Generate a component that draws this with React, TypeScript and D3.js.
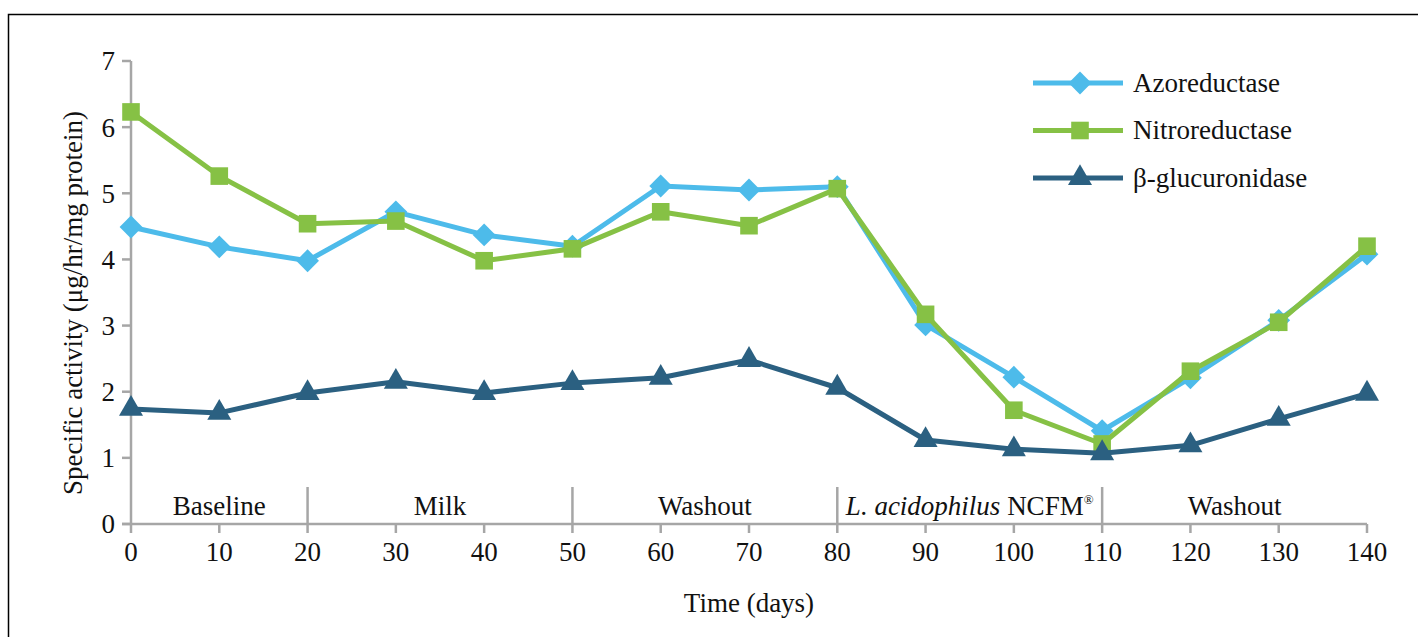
import React from 'react';
import * as d3 from 'd3';

const days = [0, 10, 20, 30, 40, 50, 60, 70, 80, 90, 100, 110, 120, 130, 140];
const azoreductase = [4.49, 4.19, 3.98, 4.72, 4.37, 4.20, 5.11, 5.05, 5.10, 3.01, 2.22, 1.41, 2.21, 3.08, 4.08];
const nitroreductase = [6.23, 5.26, 4.54, 4.58, 3.98, 4.16, 4.72, 4.51, 5.07, 3.17, 1.72, 1.21, 2.31, 3.05, 4.20];
const glucuronidase = [1.74, 1.68, 1.98, 2.15, 1.98, 2.13, 2.21, 2.48, 2.06, 1.27, 1.13, 1.07, 1.19, 1.59, 1.97];
const yTicks = [0, 1, 2, 3, 4, 5, 6, 7];
const phaseBreaks = [20, 50, 80, 110];
const phases = [
  { from: 0, to: 20, label: 'Baseline' },
  { from: 20, to: 50, label: 'Milk' },
  { from: 50, to: 80, label: 'Washout' },
  { from: 80, to: 110, label: 'NCFM' },
  { from: 110, to: 140, label: 'Washout' },
];

// diamond = square turned 45deg
const series = [
  { name: 'Azoreductase', values: azoreductase, color: '#4dbbea', symbol: d3.symbolSquare, size: 260, rot: 45 },
  { name: 'Nitroreductase', values: nitroreductase, color: '#86c145', symbol: d3.symbolSquare, size: 310, rot: 0 },
  { name: 'β-glucuronidase', values: glucuronidase, color: '#2b6081', symbol: d3.symbolTriangle, size: 250, rot: 0 },
];

const W = 1418;
const H = 637;
const font = '"Liberation Serif", "DejaVu Serif", serif';
const fs = 27;
const axisColor = '#a6a6a6';

export default function App() {
  const x = d3.scaleLinear().domain([0, 140]).range([131, 1367]);
  const y = d3.scaleLinear().domain([0, 7]).range([524, 61]);

  const line = d3.line<number>()
    .x((_, i) => x(days[i]))
    .y(d => y(d));

  return (
    <svg width={W} height={H} style={{ position: 'absolute', left: 0, top: 0, background: '#fff' }}>
      <rect x={8.5} y={14.5} width={W} height={H} fill="none" stroke="#000" strokeWidth={1.5} />

      {/* y axis */}
      <line x1={x(0)} x2={x(0)} y1={y(0)} y2={y(7)} stroke={axisColor} strokeWidth={2.5} />
      {yTicks.map(t => (
        <g key={'y' + t}>
          <line x1={x(0) - 9} x2={x(0)} y1={y(t)} y2={y(t)} stroke={axisColor} strokeWidth={2.5} />
          <text x={x(0) - 16} y={y(t)} dy="0.35em" textAnchor="end" fontFamily={font} fontSize={fs} fill="#111">{t}</text>
        </g>
      ))}

      {/* x axis */}
      <line x1={x(0) - 9} x2={x(140)} y1={y(0)} y2={y(0)} stroke={axisColor} strokeWidth={2.5} />
      {days.map(d => (
        <g key={'x' + d}>
          <line x1={x(d)} x2={x(d)} y1={y(0)} y2={y(0) + 9} stroke={axisColor} strokeWidth={2.5} />
          <text x={x(d)} y={y(0) + 37} textAnchor="middle" fontFamily={font} fontSize={fs} fill="#111">{d}</text>
        </g>
      ))}
      {phaseBreaks.map(d => (
        <line key={'p' + d} x1={x(d)} x2={x(d)} y1={y(0)} y2={y(0) - 37} stroke={axisColor} strokeWidth={2.5} />
      ))}
      {phases.map((p, i) => (
        <text key={'ph' + i} x={x((p.from + p.to) / 2)} y={y(0) - 9} textAnchor="middle" fontFamily={font} fontSize={fs} fill="#111">
          {p.label === 'NCFM' ? (
            <>
              <tspan fontStyle="italic">L. acidophilus</tspan> NCFM<tspan fontSize={13} dy={-11}>®</tspan>
            </>
          ) : p.label}
        </text>
      ))}

      {/* titles */}
      <text x={x(70)} y={612} textAnchor="middle" fontFamily={font} fontSize={fs} fill="#111">Time (days)</text>
      <text transform={`translate(82,303) rotate(-90)`} textAnchor="middle" fontFamily={font} fontSize={fs} fill="#111">
        Specific activity (μg/hr/mg protein)
      </text>

      {/* series */}
      {series.map(s => (
        <g key={s.name}>
          <path d={line(s.values) || ''} fill="none" stroke={s.color} strokeWidth={5} strokeLinejoin="round" />
          {s.values.map((v, i) => (
            <path key={i} d={d3.symbol().type(s.symbol).size(s.size)() || ''}
              transform={`translate(${x(days[i])},${y(v)}) rotate(${s.rot})`} fill={s.color} />
          ))}
        </g>
      ))}

      {/* legend */}
      {series.map((s, i) => {
        const ly = 83 + i * 47.5;
        return (
          <g key={'lg' + s.name}>
            <line x1={1033} x2={1123} y1={ly} y2={ly} stroke={s.color} strokeWidth={5} />
            <path d={d3.symbol().type(s.symbol).size(s.size)() || ''} transform={`translate(1080,${ly}) rotate(${s.rot})`} fill={s.color} />
            <text x={1133} y={ly} dy="0.33em" fontFamily={font} fontSize={fs} fill="#111">{s.name}</text>
          </g>
        );
      })}
    </svg>
  );
}
